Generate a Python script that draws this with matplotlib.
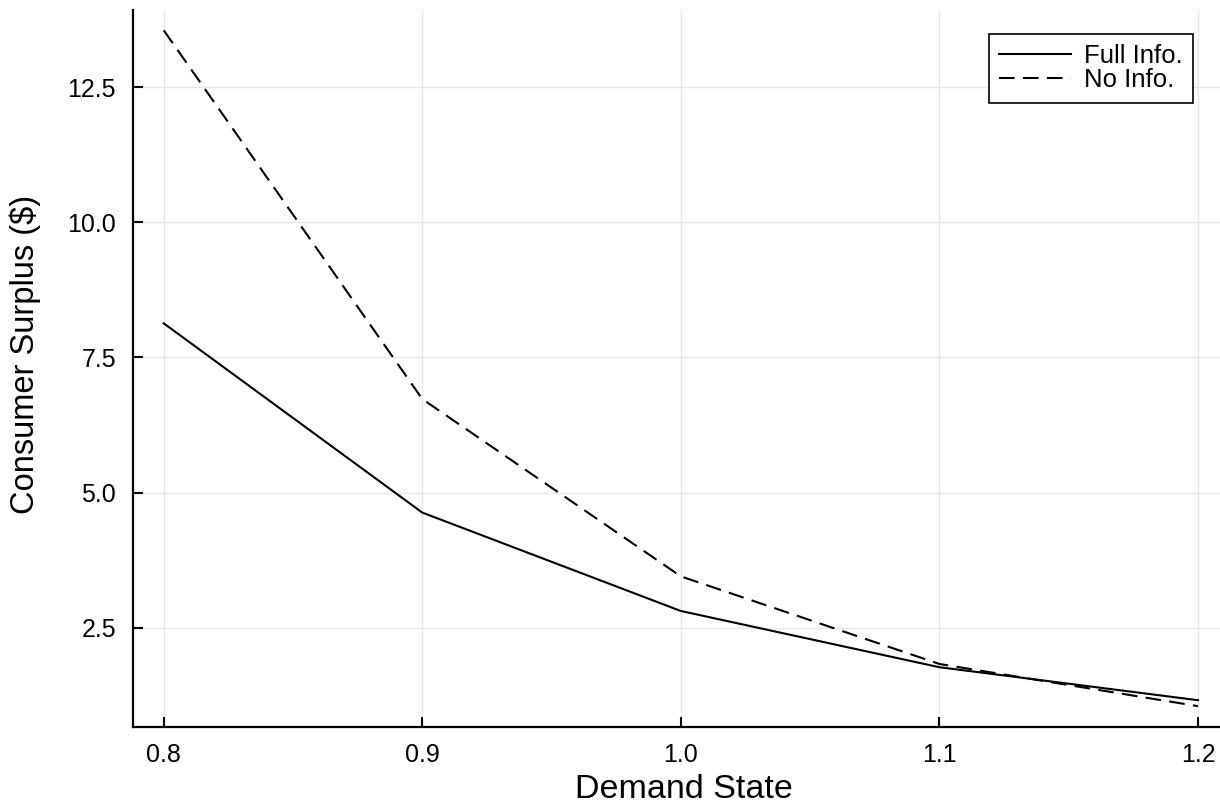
import matplotlib
matplotlib.use("Agg")
import matplotlib.pyplot as plt

plt.rcParams["font.family"] = ["Liberation Sans", "DejaVu Sans"]

demand = [0.8, 0.9, 1.0, 1.1, 1.2]
full_info = [8.13, 4.63, 2.81, 1.77, 1.16]
no_info = [13.55, 6.73, 3.45, 1.83, 1.05]
xticks = [0.8, 0.9, 1.0, 1.1, 1.2]
yticks = [2.5, 5.0, 7.5, 10.0, 12.5]

fig = plt.figure(figsize=(12.2, 8.06), dpi=100)
ax = fig.add_axes([132.7 / 1220, 79.3 / 806, 1096.3 / 1220, 716.7 / 806])

ax.plot(demand, full_info, color="black", lw=1.5, label="Full Info.")
ax.plot(demand, no_info, color="black", lw=1.5, dashes=(7.5, 4), label="No Info.")

ax.set_xlim(0.788, 1.212)
ax.set_ylim(0.67, 13.925)
ax.set_xticks(xticks)
ax.set_xticklabels(["0.8", "0.9", "1.0", "1.1", "1.2"])
ax.set_yticks(yticks)
ax.set_yticklabels(["2.5", "5.0", "7.5", "10.0", "12.5"])

ax.grid(True, color="#e6e6e6", lw=1.0)
ax.set_axisbelow(True)
for s in ["top", "right"]:
    ax.spines[s].set_visible(False)
for s in ["left", "bottom"]:
    ax.spines[s].set_linewidth(1.6)
ax.tick_params(direction="in", length=7, width=1.5, labelsize=18, pad=12)

ax.set_xlabel("Demand State", fontsize=24.5, va="baseline")
ax.xaxis.set_label_coords(0.503, (8.0 - 79.3) / 716.7)
ax.set_ylabel("Consumer Surplus ($)", fontsize=23.5)
ax.yaxis.set_label_coords((41.5 - 132.7) / 1096.3, (452 - 79.3) / 716.7)

leg = ax.legend(loc="upper right", bbox_to_anchor=(1193 / 1220, 1 - 34 / 806),
                bbox_transform=fig.transFigure, borderaxespad=0, fontsize=18.5,
                handlelength=2.8, labelspacing=0.0, handletextpad=0.5,
                borderpad=0.4, fancybox=False, framealpha=1)
leg.get_frame().set_edgecolor("black")
leg.get_frame().set_linewidth(1.2)

fig.savefig("out.png", dpi=100)
